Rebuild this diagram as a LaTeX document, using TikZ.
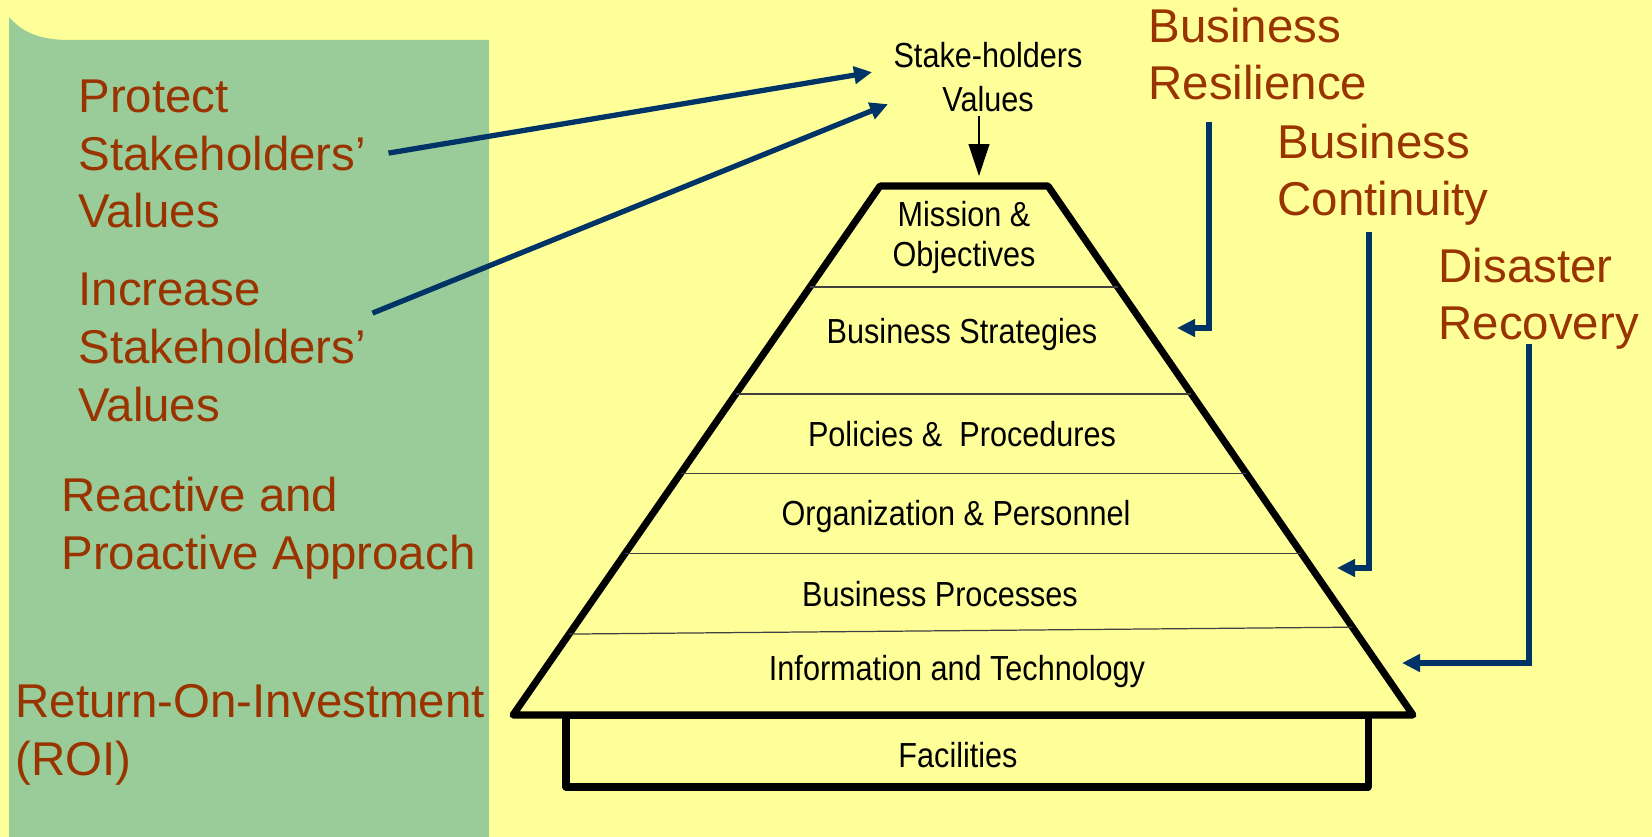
\documentclass[tikz,border=0pt]{standalone}
\usepackage{fontspec}
\usepackage {tikz}
\usetikzlibrary {arrows.meta,calc}
\setmainfont{Liberation Sans}
\newfontfamily\narrowfont[FakeStretch=0.88]{Liberation Sans}
\definecolor{paleyellow}{rgb}{1, 1, 0.6}
\definecolor{sagegreen}{rgb}{0.6, 0.8, 0.6}
\definecolor{rustbrown}{rgb}{0.6, 0.2, 0}
\definecolor{navyblue}{rgb}{0, 0.2, 0.4}

\begin{document}
\begin{tikzpicture}[x=0.02cm ,y=-0.02cm ,semithick, bigtext/.style={anchor=base west, inner sep=0, align=left, text=rustbrown, font=\fontsize{27}{32.9}\selectfont}, layertext/.style={anchor=base, inner sep=0, align=center, font=\narrowfont\fontsize{19.8}{23.2}\selectfont}, bluearrow/.style={navyblue, line width=3pt, -{Triangle[length=0.36cm, width=0.34cm]}}, pyramidline/.style={line width=4pt, line cap=round, line join=round}]
			\useasboundingbox (0,0) rectangle (1652,837);
			\fill [paleyellow] (0,0) rectangle (1652,837);
			\fill [sagegreen] (9,837) -- (9,17) .. controls (24,34) and (42,40) .. (70,40) -- (489,40) -- (489,837) -- cycle;
			\node [bigtext] (PROT) at (78,228) {Protect\\Stakeholders’\\Values};
			\node [bigtext] (INCR) at (78,421) {Increase\\Stakeholders’\\Values};
			\node [bigtext] (RPA) at (61,569) {Reactive and\\Proactive Approach};
			\node [bigtext] (ROI) at (15,775) {Return-On-Investment\\(ROI)};
			\node [bigtext] (BR) at (1148,100) {Business\\Resilience};
			\node [bigtext] (BC) at (1277,216) {Business\\Continuity};
			\node [bigtext] (DR) at (1438,340) {Disaster\\Recovery};
			\coordinate (tl) at (880,186);
			\coordinate (tr) at (1048,186);
			\coordinate (bl) at (513,715);
			\coordinate (br) at (1413,715);
			\draw [pyramidline] (566,715) rectangle (1368,787);
			\draw [pyramidline, fill=paleyellow] (bl) -- (tl) -- (tr) -- (br) -- cycle;
			\foreach \l/\r in {0.191/0.191, 0.393/0.393, 0.543/0.543, 0.694/0.694, 0.847/0.834}
				\draw [black!75, line width=0.7pt] ($(tl)!\l!(bl)$) -- ($(tr)!\r!(br)$);
			\node [layertext, font=\narrowfont\fontsize{19.8}{25.5}\selectfont] (SHV) at (988,112) {Stake-holders\\Values};
			\node [layertext] (MO) at (964,267) {Mission \&\\Objectives};
			\node [layertext] (BS) at (962,344) {Business Strategies};
			\node [layertext] (PP) at (962,446) {Policies \&\ \ Procedures};
			\node [layertext] (OP) at (956,525) {Organization \& Personnel};
			\node [layertext] (BP) at (940,606) {Business Processes};
			\node [layertext] (IT) at (957,680) {Information and Technology};
			\node [layertext] (FAC) at (958,767) {Facilities};
			\coordinate (apex) at (979,176);
			\coordinate (bsTip) at (1177,328);
			\coordinate (bpTip) at (1337,568);
			\coordinate (itTip) at (1402,663);
			\draw [-{Triangle[length=0.64cm, width=0.42cm]}, line width=0.6pt] ([yshift=-2pt]apex |- SHV.south) -- (apex);
			\draw [bluearrow] ([shift={(22,-1)}]PROT.east) -- ([shift={(-21,-5)}]SHV.west);
			\draw [bluearrow] ([shift={(6,-34)}]INCR.east) -- ([shift={(-5,27)}]SHV.west);
			\draw [bluearrow] ([shift={(61,21)}]BR.south west) |- (bsTip);
			\draw [bluearrow] ([shift={(92,6)}]BC.south west) |- (bpTip);
			\draw [bluearrow] ([shift={(91,-6)}]DR.south west) |- (itTip);
		\end{tikzpicture}
\end{document}
